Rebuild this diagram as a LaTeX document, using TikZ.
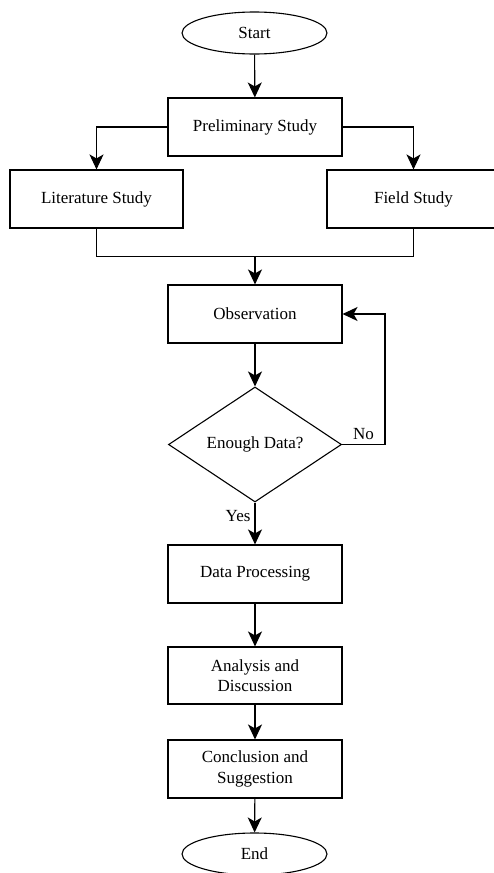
\documentclass[tikz,border=0pt]{standalone}
\usepackage{fontspec}
\setmainfont{Liberation Serif}
\usepackage{tikz}
\usetikzlibrary{shapes, arrows.meta, positioning}
\usetikzlibrary{shapes.geometric}

\begin{document}
\begin{tikzpicture}[x=1pt, y=-1pt,
		font=\fontsize{17}{20.5}\selectfont,
		every node/.style={inner sep=0pt, align=center},
		proc/.style={draw, line width=1.1pt, rectangle, minimum width=174pt, minimum height=58pt},
		term/.style={draw, line width=1.1pt, ellipse, minimum width=145pt, minimum height=42pt},
		decide/.style={draw, line width=1.1pt, diamond, minimum width=173pt, minimum height=115pt},
		flow/.style={line width=1.1pt, -{Stealth[length=15pt, width=14pt, inset=4pt]}},
		link/.style={line width=1.1pt}]
			\useasboundingbox (0,0) rectangle (494,873);
			% nodes
			\node[term] (start) at (254.5,33) {Start};
			\node[proc] (prelim) at (255,127) {Preliminary Study};
			\node[proc, minimum width=173pt] (lit) at (96.5,199) {Literature Study};
			\node[proc, minimum width=173pt] (field) at (413.5,199) {Field Study};
			\coordinate (join) at (255,256.5);
			\node[proc] (obs) at (255,314) {Observation};
			\node[decide] (data) at (255,444.5) {Enough Data?};
			\coordinate (loop) at (385,444.5);
			\node[proc] (proc) at (255,574) {Data Processing};
			\node[proc, minimum height=57pt] (anls) at (255,675.5) {Analysis and\\Discussion};
			\node[proc] (concl) at (255,769) {Conclusion and\\Suggestion};
			\node[term] (end) at (254.5,854) {End};
			% connectors
			\draw[flow] (start) -- (prelim);
			\draw[flow] (prelim.west) -| (lit.north);
			\draw[flow] (prelim.east) -| (field.north);
			\draw[link] (lit.south) |- (join) -| (field.south);
			\draw[flow] (join) -- (obs);
			\draw[flow] (obs) -- (data);
			\draw[flow] (data.east) -- node[above, yshift=4pt] (no) {No} (loop) |- (obs.east);
			\draw[flow] (data.south) -- node[left, pos=0.33, xshift=-4pt] (yes) {Yes} (proc);
			\draw[flow] (proc) -- (anls);
			\draw[flow] (anls) -- (concl);
			\draw[flow] (concl) -- (end);
	\end{tikzpicture}
\end{document}
